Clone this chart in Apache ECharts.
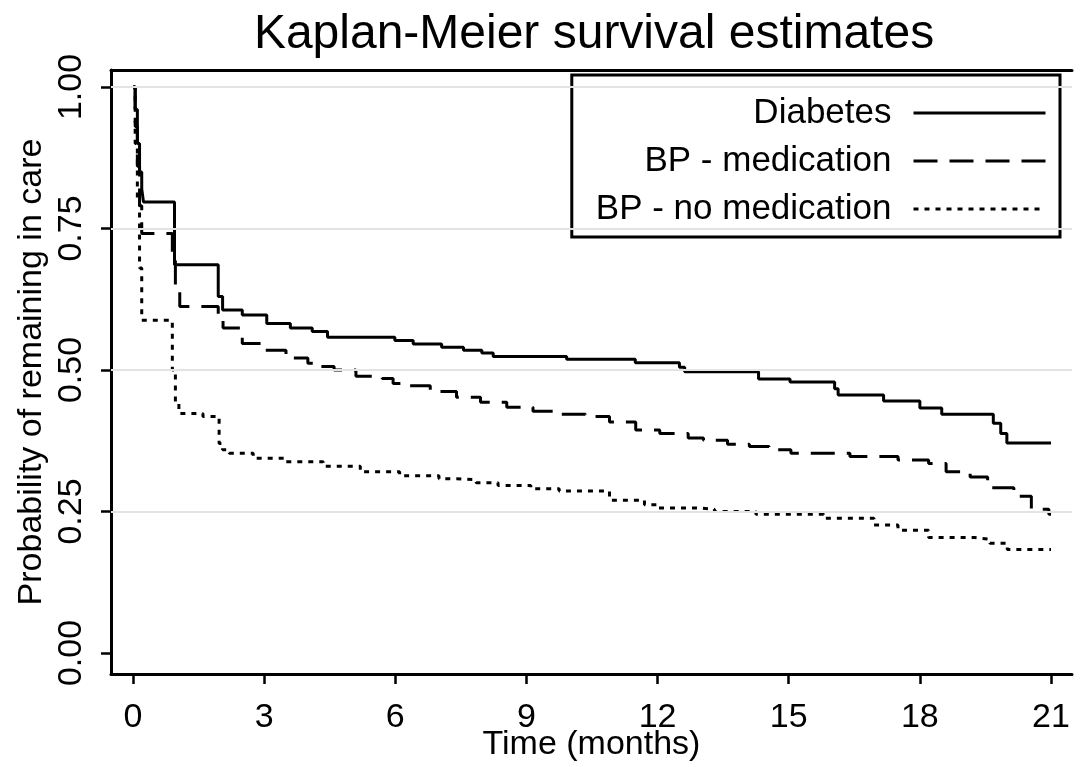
<!DOCTYPE html>
<html>
<head>
<meta charset="utf-8">
<script src="https://cdn.jsdelivr.net/npm/echarts@6.0.0/dist/echarts.min.js"></script>
<style>
  html, body { margin: 0; padding: 0; background: #fff; }
  #chart { width: 1081px; height: 767px; }
</style>
</head>
<body>
<div id="chart"></div>
<script>
// Tick labels
const xTicks = [0, 3, 6, 9, 12, 15, 18, 21];
const yTicks = [0, 0.25, 0.5, 0.75, 1.0];
const gridValues = [0.25, 0.5, 0.75, 1.0];
const seriesNames = ['Diabetes', 'BP - medication', 'BP - no medication'];

// [time (months), survival probability] – value holds from that time on
const diabetes = [
  [0, 1.0], [0.05, 0.96], [0.1, 0.9], [0.15, 0.85], [0.2, 0.82], [0.24, 0.797],
  [0.95, 0.686], [1.95, 0.63], [2.05, 0.606], [2.5, 0.597], [3.06, 0.582],
  [3.6, 0.574], [4.1, 0.568], [4.45, 0.558], [5.99, 0.552], [6.41, 0.546],
  [7.06, 0.540], [7.56, 0.535], [7.98, 0.530], [8.24, 0.524], [9.92, 0.519],
  [11.49, 0.513], [12.5, 0.505], [12.62, 0.497], [14.31, 0.484], [15.03, 0.479],
  [16.05, 0.467], [16.13, 0.456], [17.17, 0.445], [18.0, 0.433], [18.5, 0.422],
  [19.68, 0.406], [19.85, 0.388], [19.99, 0.371], [21.0, 0.371]
];
const bpMedication = [
  [0, 1.0], [0.05, 0.93], [0.1, 0.86], [0.15, 0.79], [0.2, 0.741],
  [0.9, 0.70], [0.97, 0.647], [1.07, 0.612], [1.95, 0.594], [2.06, 0.574],
  [2.5, 0.547], [3.0, 0.535], [3.5, 0.521], [4.0, 0.512], [4.3, 0.506],
  [4.6, 0.5], [5.1, 0.489], [5.7, 0.485], [5.95, 0.476], [6.3, 0.472],
  [6.8, 0.462], [7.4, 0.452], [7.95, 0.443], [8.55, 0.434], [9.15, 0.427],
  [9.75, 0.422], [10.35, 0.418], [10.9, 0.408], [11.5, 0.394], [12.05, 0.388],
  [12.7, 0.38], [13.05, 0.376], [13.6, 0.369], [14.1, 0.365], [14.55, 0.359],
  [15.05, 0.353], [16.4, 0.347], [17.5, 0.341], [18.2, 0.335], [18.6, 0.32],
  [19.15, 0.311], [19.55, 0.292], [20.15, 0.277], [20.55, 0.254], [20.95, 0.245],
  [21.0, 0.245]
];
const bpNoMedication = [
  [0, 1.0], [0.05, 0.9], [0.1, 0.8], [0.15, 0.68], [0.2, 0.588],
  [0.9, 0.50], [0.97, 0.44], [1.05, 0.423], [1.6, 0.418], [1.97, 0.37],
  [2.05, 0.359], [2.2, 0.353], [2.75, 0.344], [3.5, 0.338], [4.35, 0.330],
  [5.2, 0.32], [6.1, 0.313], [7.0, 0.308], [7.4, 0.306], [7.85, 0.301],
  [8.35, 0.296], [9.1, 0.29], [9.75, 0.286], [10.9, 0.27], [11.7, 0.262],
  [12.0, 0.256], [13.0, 0.254], [13.3, 0.25], [14.25, 0.245], [15.8, 0.238],
  [16.95, 0.226], [17.5, 0.217], [18.2, 0.204], [19.25, 0.201], [19.6, 0.194],
  [20.0, 0.183], [21.0, 0.183]
];

const FONT = 'Liberation Sans, Arial, sans-serif';
const xMin = -0.503, xMax = 21.48;
const yMin = -0.0371, yMax = 1.030;

const chart = echarts.init(document.getElementById('chart'), null, { renderer: 'canvas' });

function kmSeries(name, data, dash) {
  return {
    name: name,
    type: 'line',
    step: 'end',
    data: data,
    symbol: 'none',
    z: 3,
    lineStyle: { color: '#000', width: 3, type: dash },
    itemStyle: { color: '#000' }
  };
}

const option = {
  animation: false,
  backgroundColor: '#fff',
  title: {
    text: 'Kaplan-Meier survival estimates',
    left: 589,
    top: 6,
    textAlign: 'center',
    textStyle: { fontFamily: FONT, fontSize: 48, fontWeight: 'normal', color: '#000' }
  },
  grid: { left: 111, right: 9, top: 70, bottom: 93, containLabel: false, outerBoundsMode: 'none' },
  legend: {
    data: seriesNames,
    orient: 'vertical',
    align: 'right',
    right: 21,
    top: 75,
    padding: [20, 13, 10, 24],
    itemGap: 12,
    itemWidth: 132,
    itemHeight: 14,
    borderColor: '#000',
    borderWidth: 3,
    backgroundColor: '#fff',
    itemStyle: { opacity: 0 },
    lineStyle: { width: 3 },
    textStyle: { fontFamily: FONT, fontSize: 35, color: '#000', lineHeight: 36, padding: [0, 17, 0, 0] }
  },
  xAxis: [{
    type: 'value',
    min: xMin, max: xMax,
    name: 'Time (months)',
    nameLocation: 'middle',
    nameGap: 54,
    nameMoveOverlap: false,
    nameTextStyle: { fontFamily: FONT, fontSize: 34, color: '#000' },
    axisLine: { show: true, onZero: false, lineStyle: { color: '#000', width: 3 } },
    axisTick: { show: true, customValues: xTicks, length: 10, lineStyle: { color: '#000', width: 2.5 } },
    axisLabel: { customValues: xTicks, fontFamily: FONT, fontSize: 34, color: '#000', margin: 27 },
    splitLine: { show: false }
  }, {
    type: 'value',
    position: 'top',
    min: xMin, max: xMax,
    axisLine: { show: true, onZero: false, lineStyle: { color: '#000', width: 3 } },
    axisTick: { show: false },
    axisLabel: { show: false },
    splitLine: { show: false }
  }],
  yAxis: {
    type: 'value',
    min: yMin, max: yMax,
    name: 'Probability of remaining in care',
    nameLocation: 'middle',
    nameGap: 62,
    nameMoveOverlap: false,
    nameTextStyle: { fontFamily: FONT, fontSize: 34, color: '#000' },
    axisLine: { show: true, onZero: false, lineStyle: { color: '#000', width: 3 } },
    axisTick: { show: true, customValues: yTicks, length: 10, lineStyle: { color: '#000', width: 2.5 } },
    axisLabel: {
      customValues: yTicks, rotate: 90, fontFamily: FONT, fontSize: 34, color: '#000', margin: 22,
      formatter: v => v.toFixed(2)
    },
    splitLine: { show: false }
  },
  series: [
    {
      name: 'grid',
      type: 'line',
      data: [],
      z: 1,
      silent: true,
      markLine: {
        silent: true,
        symbol: ['none', 'none'],
        label: { show: false },
        lineStyle: { color: '#e3e3e3', width: 2, type: 'solid' },
        data: gridValues.map(v => ({ yAxis: v }))
      }
    },
    kmSeries(seriesNames[0], diabetes, 'solid'),
    kmSeries(seriesNames[1], bpMedication, [24, 12]),
    kmSeries(seriesNames[2], bpNoMedication, [5, 6])
  ]
};

chart.setOption(option);
</script>
</body>
</html>
